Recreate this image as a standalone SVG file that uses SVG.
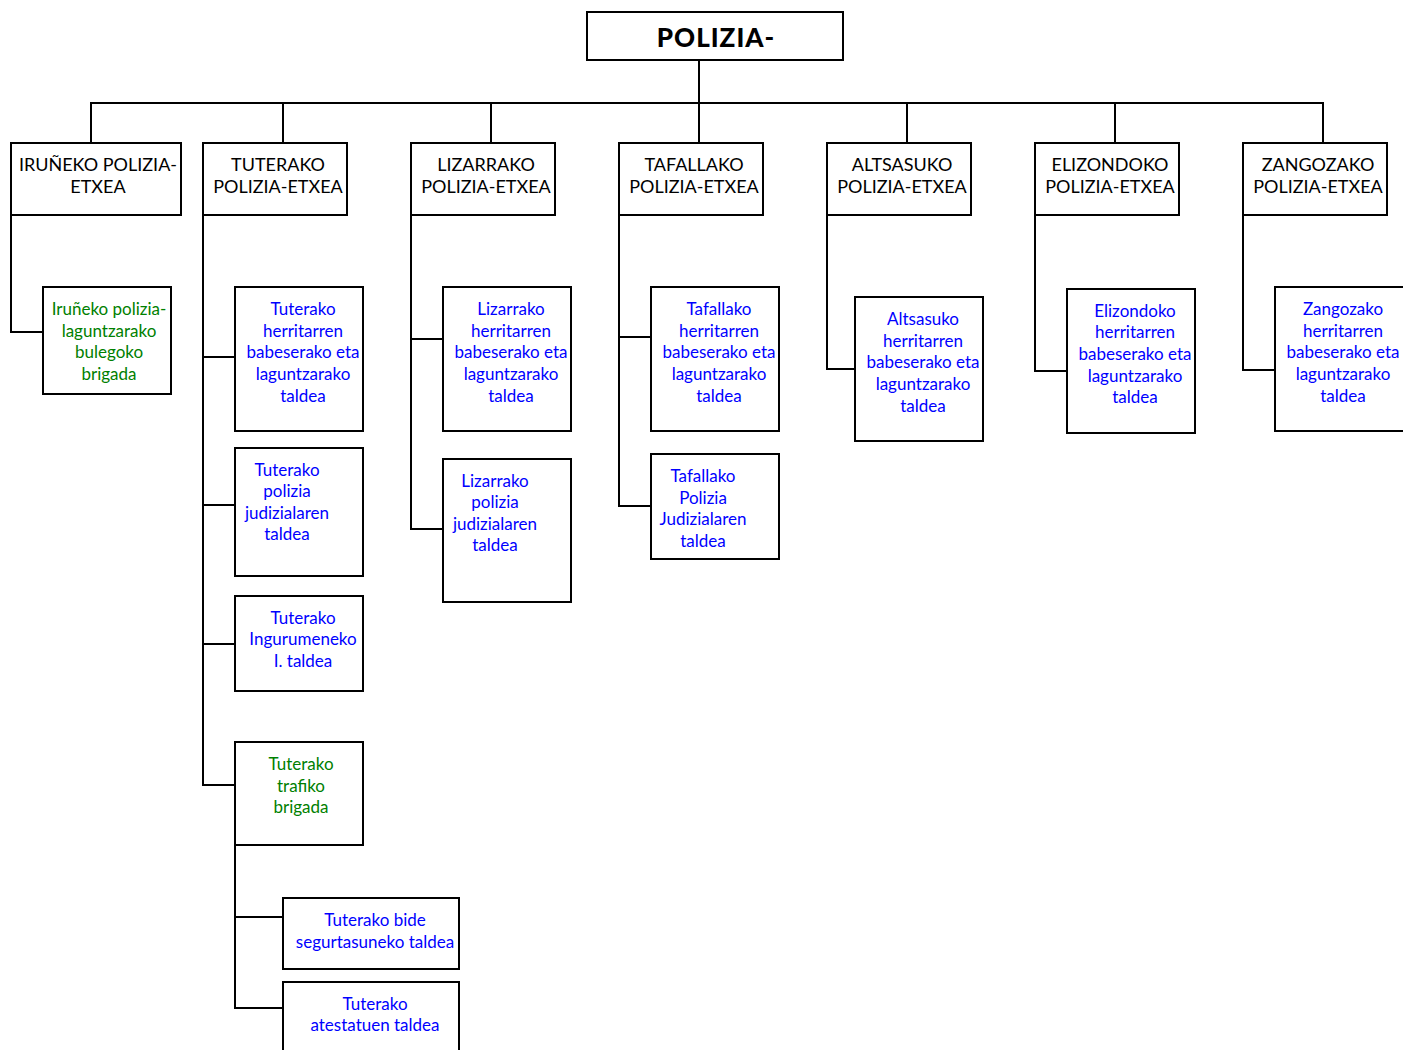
<svg xmlns="http://www.w3.org/2000/svg" width="1403" height="1050" viewBox="0 0 1403 1050">
<style>
rect{fill:#fff;stroke:#000;stroke-width:2}
.c{fill:none;stroke:#000;stroke-width:2}
text{font-family:Lato,"Open Sans","Liberation Sans",sans-serif;font-size:17px;text-anchor:middle}
.k{fill:#000;font-size:18px}
.b{fill:#0000ff}
.g{fill:#008000}
.t{font-size:26px;font-weight:900;letter-spacing:1px}
</style>
<rect width="1403" height="1050" style="fill:#fff;stroke:none"/>
<g id="connectors">
<path class="c" d="M699 60V103M91 143V103H1323V143M283 103V143M491 103V143M699 103V143M907 103V143M1115 103V143"/>
<path class="c" d="M11 215V332H43"/>
<path class="c" d="M203 215V785H235M203 357H235M203 505H235M203 644H235"/>
<path class="c" d="M235 845V1008H283M235 917H283"/>
<path class="c" d="M411 215V529H443M411 339H443"/>
<path class="c" d="M619 215V506H651M619 337H651"/>
<path class="c" d="M827 215V369H855"/>
<path class="c" d="M1035 215V371H1067"/>
<path class="c" d="M1243 215V370H1275"/>
</g>
<g id="root"><rect x="587" y="12" width="256" height="48"/><text class="k t" x="716" y="47">POLIZIA-</text></g>
<g id="iruneko"><rect x="11" y="143" width="170" height="72"/><text class="k"><tspan x="98" y="171">IRUÑEKO POLIZIA-</tspan><tspan x="98" y="193">ETXEA</tspan></text></g>
<g id="tuterako"><rect x="203" y="143" width="144" height="72"/><text class="k"><tspan x="278" y="171">TUTERAKO</tspan><tspan x="278" y="193">POLIZIA-ETXEA</tspan></text></g>
<g id="lizarrako"><rect x="411" y="143" width="144" height="72"/><text class="k"><tspan x="486" y="171">LIZARRAKO</tspan><tspan x="486" y="193">POLIZIA-ETXEA</tspan></text></g>
<g id="tafallako"><rect x="619" y="143" width="144" height="72"/><text class="k"><tspan x="694" y="171">TAFALLAKO</tspan><tspan x="694" y="193">POLIZIA-ETXEA</tspan></text></g>
<g id="altsasuko"><rect x="827" y="143" width="144" height="72"/><text class="k"><tspan x="902" y="171">ALTSASUKO</tspan><tspan x="902" y="193">POLIZIA-ETXEA</tspan></text></g>
<g id="elizondoko"><rect x="1035" y="143" width="144" height="72"/><text class="k"><tspan x="1110" y="171">ELIZONDOKO</tspan><tspan x="1110" y="193">POLIZIA-ETXEA</tspan></text></g>
<g id="zangozako"><rect x="1243" y="143" width="144" height="72"/><text class="k"><tspan x="1318" y="171">ZANGOZAKO</tspan><tspan x="1318" y="193">POLIZIA-ETXEA</tspan></text></g>

<g id="iruneko-brigada"><rect x="43" y="287" width="128" height="107"/><text class="g"><tspan x="109" y="315">Iruñeko polizia-</tspan><tspan x="109" y="337">laguntzarako</tspan><tspan x="109" y="358">bulegoko</tspan><tspan x="109" y="380">brigada</tspan></text></g>

<g id="tuterako-babes"><rect x="235" y="287" width="128" height="144"/><text class="b"><tspan x="303" y="315">Tuterako</tspan><tspan x="303" y="337">herritarren</tspan><tspan x="303" y="358">babeserako eta</tspan><tspan x="303" y="380">laguntzarako</tspan><tspan x="303" y="402">taldea</tspan></text></g>
<g id="tuterako-judizial"><rect x="235" y="448" width="128" height="128"/><text class="b"><tspan x="287" y="476">Tuterako</tspan><tspan x="287" y="497">polizia</tspan><tspan x="287" y="519">judizialaren</tspan><tspan x="287" y="540">taldea</tspan></text></g>
<g id="tuterako-ingurumen"><rect x="235" y="596" width="128" height="95"/><text class="b"><tspan x="303" y="624">Tuterako</tspan><tspan x="303" y="645">Ingurumeneko</tspan><tspan x="303" y="667">I. taldea</tspan></text></g>
<g id="tuterako-trafiko"><rect x="235" y="742" width="128" height="103"/><text class="g"><tspan x="301" y="770">Tuterako</tspan><tspan x="301" y="792">trafiko</tspan><tspan x="301" y="813">brigada</tspan></text></g>
<g id="tuterako-bide"><rect x="283" y="898" width="176" height="71"/><text class="b"><tspan x="375" y="926">Tuterako bide</tspan><tspan x="375" y="948">segurtasuneko taldea</tspan></text></g>
<g id="tuterako-atestatu"><rect x="283" y="982" width="176" height="80"/><text class="b"><tspan x="375" y="1010">Tuterako</tspan><tspan x="375" y="1031">atestatuen taldea</tspan></text></g>

<g id="lizarrako-babes"><rect x="443" y="287" width="128" height="144"/><text class="b"><tspan x="511" y="315">Lizarrako</tspan><tspan x="511" y="337">herritarren</tspan><tspan x="511" y="358">babeserako eta</tspan><tspan x="511" y="380">laguntzarako</tspan><tspan x="511" y="402">taldea</tspan></text></g>
<g id="lizarrako-judizial"><rect x="443" y="459" width="128" height="143"/><text class="b"><tspan x="495" y="487">Lizarrako</tspan><tspan x="495" y="508">polizia</tspan><tspan x="495" y="530">judizialaren</tspan><tspan x="495" y="551">taldea</tspan></text></g>

<g id="tafallako-babes"><rect x="651" y="287" width="128" height="144"/><text class="b"><tspan x="719" y="315">Tafallako</tspan><tspan x="719" y="337">herritarren</tspan><tspan x="719" y="358">babeserako eta</tspan><tspan x="719" y="380">laguntzarako</tspan><tspan x="719" y="402">taldea</tspan></text></g>
<g id="tafallako-judizial"><rect x="651" y="454" width="128" height="105"/><text class="b"><tspan x="703" y="482">Tafallako</tspan><tspan x="703" y="504">Polizia</tspan><tspan x="703" y="525">Judizialaren</tspan><tspan x="703" y="547">taldea</tspan></text></g>

<g id="altsasuko-babes"><rect x="855" y="297" width="128" height="144"/><text class="b"><tspan x="923" y="325">Altsasuko</tspan><tspan x="923" y="347">herritarren</tspan><tspan x="923" y="368">babeserako eta</tspan><tspan x="923" y="390">laguntzarako</tspan><tspan x="923" y="412">taldea</tspan></text></g>
<g id="elizondoko-babes"><rect x="1067" y="289" width="128" height="144"/><text class="b"><tspan x="1135" y="317">Elizondoko</tspan><tspan x="1135" y="338">herritarren</tspan><tspan x="1135" y="360">babeserako eta</tspan><tspan x="1135" y="382">laguntzarako</tspan><tspan x="1135" y="403">taldea</tspan></text></g>
<g id="zangozako-babes"><rect x="1275" y="287" width="130" height="144"/><text class="b"><tspan x="1343" y="315">Zangozako</tspan><tspan x="1343" y="337">herritarren</tspan><tspan x="1343" y="358">babeserako eta</tspan><tspan x="1343" y="380">laguntzarako</tspan><tspan x="1343" y="402">taldea</tspan></text></g>
</svg>
